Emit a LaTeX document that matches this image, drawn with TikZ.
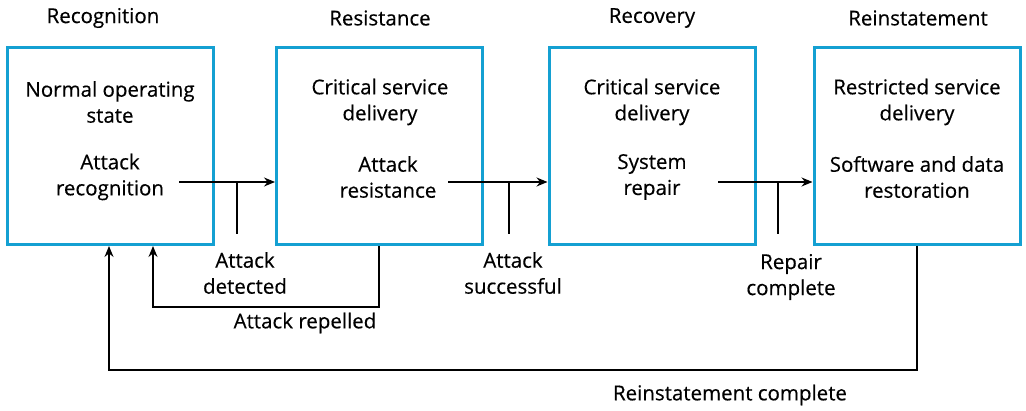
\documentclass[tikz,border=0pt]{standalone}
\usepackage{fontspec}
\setmainfont{Open Sans}[FakeBold=0.4]
\usetikzlibrary{arrows.meta}
\definecolor{boxblue}{RGB}{20,160,210}
\begin{document}
\begin{tikzpicture}[x=1pt,y=-1pt,
  stage/.style={draw=boxblue,line width=3pt,minimum width=206pt,minimum height=197pt,inner sep=0pt},
  txt/.style={font=\fontsize{20.5}{26}\selectfont,align=center,inner sep=0pt},
  conn/.style={line width=1.3pt},
  arr/.style={conn,-{Stealth[length=11pt,width=9pt]}}]
\useasboundingbox (0,0) rectangle (1026,411);
% boxes
\node[stage] (b1) at (110,146) {};
\node[stage] (b2) at (379.5,146) {};
\node[stage] (b3) at (652,146) {};
\node[stage] (b4) at (917,146) {};
% titles
\node[txt] (h1) at (103,18) {Recognition};
\node[txt] (h2) at (380,18) {Resistance};
\node[txt] (h3) at (652,18) {Recovery};
\node[txt] (h4) at (918,18) {Reinstatement};
% box texts
\node[txt] (a1) at (110,102) {Normal operating\\state};
\node[txt] (c1) at (110,177) {Attack\\recognition};
\node[txt] (a2) at (380,102) {Critical service\\delivery};
\node[txt] (c2) at (388,177) {Attack\\resistance};
\node[txt] (a3) at (652,102) {Critical service\\delivery};
\node[txt] (c3) at (652,177) {System\\repair};
\node[txt] (a4) at (917,102) {Restricted service\\delivery};
\node[txt] (c4) at (917,177) {Software and data\\restoration};
% transition labels
\node[txt] (l1) at (245,273) {Attack\\detected};
\node[txt] (l2) at (513,273) {Attack\\successful};
\node[txt] (l3) at (791,277) {Repair\\complete};
\node[txt] (l4) at (305,323) {Attack repelled};
\node[txt] (l5) at (730,395) {Reinstatement complete};
% forward arrows
\coordinate (s1) at (179,182);
\coordinate (s2) at (448,182);
\coordinate (s3) at (718,182);
\draw[arr] (s1) -- (b2.west |- s1);
\draw[arr] (s2) -- (b3.west |- s2);
\draw[arr] (s3) -- (b4.west |- s3);
% ticks
\coordinate (t1) at (237,234);
\coordinate (t2) at (509,234);
\coordinate (t3) at (778,234);
\draw[conn] (t1) -- (t1 |- s1);
\draw[conn] (t2) -- (t2 |- s2);
\draw[conn] (t3) -- (t3 |- s3);
% feedback loops
\coordinate (r1) at (379,307);
\coordinate (r2) at (153,307);
\draw[arr] (b2.south -| r1) -- (r1) -- (r2) -- (b1.south -| r2);
\coordinate (q1) at (917,370);
\coordinate (q2) at (109,370);
\draw[arr] (b4.south -| q1) -- (q1) -- (q2) -- (b1.south -| q2);
\end{tikzpicture}
\end{document}
